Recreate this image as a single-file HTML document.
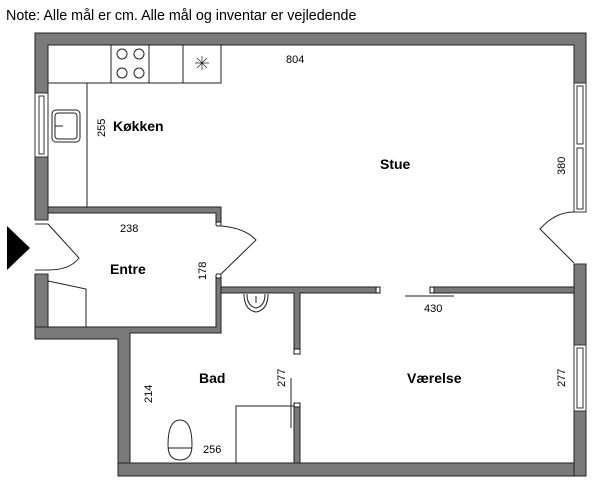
<!DOCTYPE html>
<html><head><meta charset="utf-8"><style>
body{margin:0;background:#fff}
svg text{font-family:"Liberation Sans",sans-serif;fill:#000}
</style></head><body>
<svg width="600" height="489" viewBox="0 0 600 489" xmlns="http://www.w3.org/2000/svg">
<text x="6" y="20" font-size="14.3">Note: Alle mål er cm. Alle mål og inventar er vejledende</text>
<g fill="#7a7a7a" stroke="#222" stroke-width="1">
<path d="M35 33 H586 V83 H574 V45 H48 V93 H35 Z"/>
<rect x="35" y="157" width="13" height="63"/>
<path d="M48 207 H221 V222 H216 V213 H48 Z"/>
<rect x="35" y="274" width="13" height="65"/>
<path d="M35 327 H216 V277 H221 V333 H130 V476 H118 V339 H35 Z"/>
<rect x="118" y="463" width="468" height="13"/>
<rect x="574" y="411" width="12" height="65"/>
<path d="M221 287 H380 V293 H300 V354 H294 V293 H221 Z"/>
<rect x="574" y="264" width="12" height="81"/>
<rect x="430" y="287" width="144" height="6"/>
<rect x="294" y="403" width="6" height="60"/>
</g>
<g fill="#fff" stroke="#222" stroke-width="1">
<rect x="376" y="287" width="4" height="6" rx="1.5"/>
<rect x="430" y="287" width="4" height="6" rx="1.5"/>
<rect x="294" y="349" width="6" height="5" rx="1.5"/>
<rect x="294" y="403" width="6" height="4" rx="1.5"/>
<rect x="216" y="222" width="5" height="4" rx="1.5"/>
<rect x="216" y="274" width="5" height="4" rx="1.5"/>
</g>
<g fill="#fff" stroke="#333" stroke-width="1">
<rect x="35" y="93" width="13" height="64"/><rect x="39" y="96" width="5" height="58"/>
<rect x="574" y="83" width="12" height="129"/><rect x="577" y="86" width="6" height="58"/><rect x="577" y="148" width="6" height="61"/>
<rect x="574" y="345" width="12" height="66"/><rect x="577" y="348" width="6" height="60"/>
<line x1="35" y1="220" x2="48" y2="220"/><line x1="35" y1="224" x2="48" y2="224"/>
<line x1="35" y1="270" x2="48" y2="270"/><line x1="35" y1="274" x2="48" y2="274"/>
<line x1="574" y1="212" x2="586" y2="212"/><line x1="574" y1="264" x2="586" y2="264"/>
</g>
<g fill="none" stroke="#222" stroke-width="1">
<path d="M48 83 H221 V45"/><path d="M87 83 V207"/>
<rect x="111" y="45" width="38" height="38"/><line x1="183" y1="45" x2="183" y2="83"/>
<circle cx="122" cy="54" r="5"/><circle cx="139" cy="54" r="5"/><circle cx="122" cy="73" r="5"/><circle cx="139" cy="73" r="5"/>
<path d="M195 63 H209 M202 56 V70 M197 58 L207 68 M207 58 L197 68" stroke-width="0.7"/>
<rect x="52" y="110" width="28" height="32" rx="4"/><rect x="55" y="113" width="22" height="26" rx="3"/>
<line x1="55" y1="126" x2="63" y2="126"/>
<path d="M48 224 L79 258 Q70 270 48 270"/>
<path d="M221 226 Q245 228 256 240 L221 274"/>
<path d="M574 212 Q555 212 540 229 L574 263"/>
<path d="M48 281 L86 289 V327"/>
<path d="M236 463 V406 H294"/>
<path d="M244 294 Q244 310 256 312 Q268 310 268 294"/><path d="M247 294 Q247 306 256 308 Q265 306 265 294"/>
<line x1="256" y1="296" x2="256" y2="303"/>
<path d="M180 420 Q168 420 168 445 Q168 460 180 460 Q192 460 192 445 Q192 420 180 420 Z"/>
<line x1="168" y1="448" x2="192" y2="448"/>
<line x1="291" y1="378" x2="291" y2="428"/>
<line x1="405" y1="296" x2="454" y2="296"/>
</g>
<polygon points="7,226 30,248 7,270" fill="#000"/>
<g font-size="11">
<text x="286" y="63">804</text>
<text x="120" y="232">238</text>
<text x="424" y="312">430</text>
<text x="203" y="453">256</text>
<text transform="translate(105,137) rotate(-90)">255</text>
<text transform="translate(206,280) rotate(-90)">178</text>
<text transform="translate(152,403) rotate(-90)">214</text>
<text transform="translate(285,387) rotate(-90)">277</text>
<text transform="translate(565,387) rotate(-90)">277</text>
<text transform="translate(565,175) rotate(-90)">380</text>
</g>
<g font-size="14" font-weight="bold">
<text x="113" y="131">Køkken</text>
<text x="380" y="169">Stue</text>
<text x="110" y="274">Entre</text>
<text x="199" y="383">Bad</text>
<text x="407" y="383">Værelse</text>
</g>
</svg>
</body></html>
